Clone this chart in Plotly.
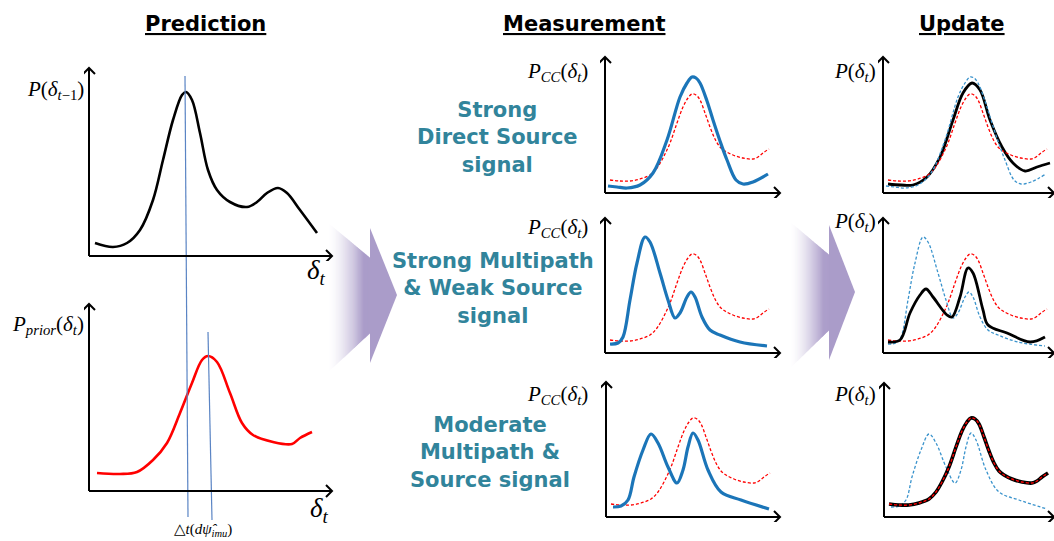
import plotly.graph_objects as go

FIG_W, FIG_H = 1054, 541

# ---------------- data (local units: right of / above each panel origin) ----------------
# Prediction, top: P(delta_{t-1})
PRED_PREV_X = [6, 24, 38, 51, 64, 74, 84, 93, 97, 103, 111, 119, 128, 141, 158, 168, 178, 189, 198, 211, 228]
PRED_PREV_Y = [13, 9, 13, 26, 56, 96, 136, 161, 164, 156, 123, 86, 66, 54, 49, 54, 63, 68, 63, 46, 23]

# Prediction, bottom: P_prior(delta_t)
PRED_PRIOR_X = [8, 31, 48, 64, 78, 91, 103, 113, 119, 128, 141, 153, 164, 184, 203, 211, 223]
PRED_PRIOR_Y = [18, 17, 19, 31, 48, 78, 108, 131, 135, 129, 98, 68, 56, 49, 47, 53, 59]

# IMU shift markers (x at top / bottom of each marker line, in bottom-panel units)
IMU_LINE1_X = [96, 99]
IMU_LINE1_Y = [415, -26]
IMU_LINE2_X = [119, 123]
IMU_LINE2_Y = [159, -29]

# Prior as drawn (dashed) in small panels
PRIOR_X = [5, 15, 25, 35, 45, 52, 58, 65, 72, 78, 83, 87, 91, 95, 100, 105, 110, 115, 120, 128, 138, 148, 153, 158, 164]
PRIOR_Y = [13, 12, 12, 14, 18, 25, 35, 50, 70, 86, 95, 99, 98, 93, 80, 66, 54, 46, 42, 38, 35, 34, 36, 40, 44]

# Measurements P_CC(delta_t)
MEAS_STRONG_X = [3, 12, 22, 35, 48, 62, 75, 82, 87, 91, 95, 102, 108, 115, 122, 131, 138, 148, 163]
MEAS_STRONG_Y = [7, 6, 5, 8, 20, 53, 96, 110, 116, 115, 110, 92, 73, 52, 33, 13, 9, 11, 19]

MEAS_MULTI_X = [5, 13, 18, 25, 32, 40, 45, 55, 63, 70, 75, 82, 86, 90, 97, 105, 115, 135, 162]
MEAS_MULTI_Y = [9, 10, 16, 53, 90, 116, 111, 80, 53, 35, 40, 56, 61, 56, 36, 23, 18, 11, 7]

MEAS_MOD_X = [7, 15, 22, 28, 37, 45, 52, 62, 71, 77, 82, 87, 92, 102, 115, 135, 163]
MEAS_MOD_Y = [10, 11, 17, 40, 67, 83, 74, 50, 34, 47, 70, 84, 77, 47, 25, 17, 8]

# Updated posteriors P(delta_t)
POST_STRONG_X = [5, 18, 30, 44, 57, 70, 80, 89, 97, 107, 119, 130, 142, 154, 167]
POST_STRONG_Y = [9, 8, 8, 16, 36, 73, 100, 110, 103, 73, 46, 30, 22, 26, 30]

POST_MULTI_X = [5, 17, 27, 37, 43, 50, 64, 69, 77, 85, 90, 100, 105, 124, 147, 162]
POST_MULTI_Y = [11, 13, 40, 58, 64, 56, 38, 36, 56, 85, 80, 43, 28, 20, 11, 16]

POST_MOD_X = [5, 15, 25, 35, 45, 52, 58, 65, 72, 78, 83, 87, 91, 95, 100, 105, 110, 115, 120, 128, 138, 148, 153, 158, 164]
POST_MOD_Y = [13, 12, 12, 14, 18, 25, 35, 50, 70, 86, 95, 99, 98, 93, 80, 66, 54, 46, 42, 38, 35, 34, 36, 40, 44]

COLUMN_TITLES = ["Prediction", "Measurement", "Update"]
CASE_LABELS = ["Strong<br>Direct Source<br>signal",
               "Strong Multipath<br>&amp; Weak Source<br>signal",
               "Moderate<br>Multipath &amp;<br>Source signal"]

# ---------------- layout helpers ----------------
BLACK = "#000000"
RED = "#ff0000"
BLUE = "#1b75b8"
BLUE_DASH = "#3a93cc"
TEAL = "#31849b"
IMU_BLUE = "#5a84c4"
MATH_FONT = "Liberation Serif, DejaVu Serif, serif"
SANS_BOLD = "DejaVu Sans, Verdana, sans-serif"

# panel: origin (px), pads (px), axis arrow tips (local units)
PANELS = [
    # name, ox, oy, left, right, down, up, xtip, ytip
    ("P1", 89, 256, 5, 248, 5, 192, 243, 188),
    ("P2", 89, 491, 5, 248, 50, 431, 243, 187),
    ("M1", 605, 193, 5, 178, 5, 140, 175, 136),
    ("M2", 605, 353, 5, 178, 5, 140, 175, 135),
    ("M3", 606, 517, 5, 178, 5, 140, 174, 135),
    ("U1", 883, 193, 5, 171, 5, 140, 171, 136),
    ("U2", 883, 353, 5, 171, 5, 140, 171, 135),
    ("U3", 884, 517, 5, 170, 5, 140, 170, 134),
]

fig = go.Figure()
layout_axes = {}
annotations = []
shapes = []
axis_id = {}

HEAD = 6  # chevron half-size in px

for i, (name, ox, oy, left, right, down, up, xtip, ytip) in enumerate(PANELS, start=1):
    sfx = "" if i == 1 else str(i)
    axis_id[name] = (f"x{sfx}", f"y{sfx}")
    x0 = max(0.0, (ox - left) / FIG_W)
    x1 = min(1.0, (ox + right) / FIG_W)
    y0 = max(0.0, 1 - (oy + down) / FIG_H)
    y1 = min(1.0, 1 - (oy - up) / FIG_H)
    layout_axes[f"xaxis{sfx}"] = dict(domain=[x0, x1], range=[-left, right], visible=False,
                                      anchor=f"y{sfx}", fixedrange=True)
    layout_axes[f"yaxis{sfx}"] = dict(domain=[y0, y1], range=[-down, up], visible=False,
                                      anchor=f"x{sfx}", fixedrange=True)
    xr, yr = f"x{sfx}", f"y{sfx}"
    # axis lines
    shapes.append(dict(type="line", xref=xr, yref=yr, x0=0, y0=0, x1=xtip - 0.5, y1=0,
                       line=dict(color=BLACK, width=2)))
    shapes.append(dict(type="line", xref=xr, yref=yr, x0=0, y0=0, x1=0, y1=ytip - 0.5,
                       line=dict(color=BLACK, width=2)))
    # open chevron heads (pixel-sized, anchored at the tips)
    shapes.append(dict(type="path", xref=xr, yref=yr, xsizemode="pixel", ysizemode="pixel",
                       xanchor=xtip, yanchor=0,
                       path=f"M {-HEAD},{HEAD} L 0,0 L {-HEAD},{-HEAD}",
                       line=dict(color=BLACK, width=2)))
    shapes.append(dict(type="path", xref=xr, yref=yr, xsizemode="pixel", ysizemode="pixel",
                       xanchor=0, yanchor=ytip,
                       path=f"M {-HEAD},{-HEAD} L 0,0 L {HEAD},{-HEAD}",
                       line=dict(color=BLACK, width=2)))


def add_line(panel, xs, ys, color, width, dash="solid"):
    xr, yr = axis_id[panel]
    fig.add_trace(go.Scatter(x=xs, y=ys, mode="lines", xaxis=xr, yaxis=yr,
                             line=dict(color=color, width=width, dash=dash,
                                       shape="spline", smoothing=1.0),
                             hoverinfo="skip", showlegend=False))


def add_straight(panel, xs, ys, color, width):
    xr, yr = axis_id[panel]
    fig.add_trace(go.Scatter(x=xs, y=ys, mode="lines", xaxis=xr, yaxis=yr,
                             line=dict(color=color, width=width),
                             hoverinfo="skip", showlegend=False))


DASH = "3px,2px"

# Prediction column
add_line("P1", PRED_PREV_X, PRED_PREV_Y, BLACK, 2.6)
add_line("P2", PRED_PRIOR_X, PRED_PRIOR_Y, RED, 2.6)
add_straight("P2", IMU_LINE1_X, IMU_LINE1_Y, IMU_BLUE, 1.2)
add_straight("P2", IMU_LINE2_X, IMU_LINE2_Y, IMU_BLUE, 1.2)

# Measurement column
for panel, mx, my in [("M1", MEAS_STRONG_X, MEAS_STRONG_Y),
                      ("M2", MEAS_MULTI_X, MEAS_MULTI_Y),
                      ("M3", MEAS_MOD_X, MEAS_MOD_Y)]:
    add_line(panel, PRIOR_X, PRIOR_Y, RED, 1.3, DASH)
    add_line(panel, mx, my, BLUE, 3.2)

# Update column
add_line("U1", POST_STRONG_X, POST_STRONG_Y, BLACK, 2.8)
add_line("U1", PRIOR_X, PRIOR_Y, RED, 1.3, DASH)
add_line("U1", MEAS_STRONG_X, MEAS_STRONG_Y, BLUE_DASH, 1.3, DASH)

add_line("U2", PRIOR_X, PRIOR_Y, RED, 1.3, DASH)
add_line("U2", MEAS_MULTI_X, MEAS_MULTI_Y, BLUE_DASH, 1.3, DASH)
add_line("U2", POST_MULTI_X, POST_MULTI_Y, BLACK, 2.8)

add_line("U3", MEAS_MOD_X, MEAS_MOD_Y, BLUE_DASH, 1.3, DASH)
add_line("U3", POST_MOD_X, POST_MOD_Y, BLACK, 3.6)
add_line("U3", PRIOR_X, PRIOR_Y, RED, 1.4, DASH)


def px(x):
    return x / FIG_W


def py(y):
    return 1 - y / FIG_H


def text_ann(x, y, text, size, family, color=BLACK, xanchor="center", yanchor="middle"):
    annotations.append(dict(xref="paper", yref="paper", x=px(x), y=py(y), text=text,
                            showarrow=False, xanchor=xanchor, yanchor=yanchor,
                            font=dict(size=size, family=family, color=color)))


# Column titles
for cx, title in zip([205, 584, 962], COLUMN_TITLES):
    text_ann(cx, 24, f"<b><u>{title}</u></b>", 21, SANS_BOLD)

# Case labels
for (cx, cy), lab in zip([(497, 137), (493, 288), (490, 452)], CASE_LABELS):
    text_ann(cx, cy, f"<b>{lab}</b>", 21, SANS_BOLD, color=TEAL)

# Axis labels (math)
text_ann(86, 90, "<i>P</i>(<i>δ</i><sub><i>t</i>−1</sub>)", 21, MATH_FONT, xanchor="right")
text_ann(316, 272, "<i>δ</i><sub><i>t</i></sub>", 27, MATH_FONT)
text_ann(86, 325, "<i>P</i><sub><i>prior</i></sub>(<i>δ</i><sub><i>t</i></sub>)", 21, MATH_FONT, xanchor="right")
text_ann(319, 510, "<i>δ</i><sub><i>t</i></sub>", 27, MATH_FONT)
text_ann(203, 530, "△<i>t</i>(<i>d</i><i>ψ̂</i><sub><i>imu</i></sub>)", 15, MATH_FONT)

for yy in [72, 228, 395]:
    text_ann(590, yy, "<i>P</i><sub><i>CC</i></sub>(<i>δ</i><sub><i>t</i></sub>)", 21, MATH_FONT, xanchor="right")
for yy in [72, 222, 395]:
    text_ann(878, yy, "<i>P</i>(<i>δ</i><sub><i>t</i></sub>)", 21, MATH_FONT, xanchor="right")

# Big gradient arrows between columns
PURPLE = (170, 156, 201)


def block_arrow(xl, xn, xt, yt, htop, hbot, btop_l, bbot_l, btop_r, bbot_r, n=40):
    for k in range(n):
        t0, t1 = k / n, (k + 1) / n
        xa = xl + (xn - xl) * t0
        xb = xl + (xn - xl) * t1 + 0.6
        ta_top = btop_l + (btop_r - btop_l) * t0
        tb_top = btop_l + (btop_r - btop_l) * t1
        ta_bot = bbot_l + (bbot_r - bbot_l) * t0
        tb_bot = bbot_l + (bbot_r - bbot_l) * t1
        f = min(1.0, ((t0 + t1) / 2 / 0.85)) ** 1.6
        c = tuple(int(round(255 + (pc - 255) * f)) for pc in PURPLE)
        path = (f"M {px(xa)},{py(ta_top)} L {px(xb)},{py(tb_top)} "
                f"L {px(xb)},{py(tb_bot)} L {px(xa)},{py(ta_bot)} Z")
        shapes.append(dict(type="path", xref="paper", yref="paper", path=path,
                           fillcolor=f"rgb{c}", line=dict(width=0), layer="below"))
    head = (f"M {px(xn)},{py(htop)} L {px(xt)},{py(yt)} L {px(xn)},{py(hbot)} Z")
    shapes.append(dict(type="path", xref="paper", yref="paper", path=head,
                       fillcolor=f"rgb{PURPLE}", line=dict(width=0), layer="below"))


block_arrow(328, 370, 397, 295, 228, 363, 223, 372, 258, 333)
block_arrow(790, 829, 855, 292, 225, 360, 222, 368, 255, 330)

fig.update_layout(
    width=FIG_W, height=FIG_H,
    margin=dict(l=0, r=0, t=0, b=0),
    paper_bgcolor="white", plot_bgcolor="rgba(0,0,0,0)",
    showlegend=False,
    annotations=annotations,
    shapes=shapes,
    **layout_axes,
)

fig.write_html("out.html", config=dict(displayModeBar=False))
